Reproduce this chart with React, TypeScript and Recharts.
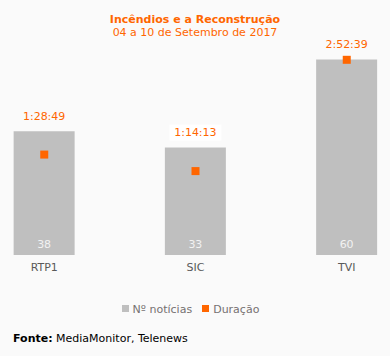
import React from "react";
import {
  Bar,
  ComposedChart,
  LabelList,
  Legend,
  Scatter,
  XAxis,
  YAxis,
} from "recharts";

const channels = ["RTP1", "SIC", "TVI"];
const newsCount = [38, 33, 60];
const durationLabels = ["1:28:49", "1:14:13", "2:52:39"];
// duração em segundos
const durationSeconds = [5329, 4453, 10359];
const legendOrder = ["count", "duration"];

const chartData = channels.map((name, i) => ({
  idx: i,
  name,
  count: newsCount[i],
  duration: durationSeconds[i],
  durationLabel: durationLabels[i],
}));

const FONT = "'DejaVu Sans', Verdana, sans-serif";
const ORANGE = "#ff6600";
const GREY = "#bfbfbf";

function DurationLabel(props: any) {
  const { x, y, width, index } = props;
  const text = durationLabels[index];
  const cx = x + width / 2;
  const cy = y - 15;
  return (
    <g>
      {index === 1 && (
        <rect x={cx - 26} y={cy - 8} width={52} height={16} fill="#ffffff" />
      )}
      <text
        x={cx}
        y={cy}
        textAnchor="middle"
        dominantBaseline="central"
        fill={ORANGE}
        fontSize={11}
        fontFamily={FONT}
      >
        {text}
      </text>
    </g>
  );
}

function SquareDot(props: any) {
  const { cx, cy } = props;
  return <rect x={cx - 4} y={cy - 4} width={8} height={8} fill={ORANGE} />;
}

export default function App() {
  return (
    <div
      style={{
        position: "absolute",
        left: 0,
        top: 0,
        width: 390,
        height: 356,
        background: "#fafafa",
        fontFamily: FONT,
      }}
    >
      <div
        style={{
          position: "absolute",
          top: 13,
          width: 390,
          textAlign: "center",
          color: ORANGE,
          fontSize: 11,
          lineHeight: "13px",
        }}
      >
        <div style={{ fontWeight: "bold" }}>Incêndios e a Reconstrução</div>
        <div>04 a 10 de Setembro de 2017</div>
      </div>
      <ComposedChart
        width={390}
        height={320}
        data={chartData}
        margin={{ top: 27, right: 13, bottom: 3, left: 14 }}
        style={{ position: "absolute", top: 0, left: 0 }}
      >
        <XAxis
          dataKey="idx"
          type="number"
          domain={[-0.2, 2.2]}
          ticks={[0, 1, 2]}
          tickFormatter={(v: number) => channels[v]}
          axisLine={false}
          tickLine={false}
          height={43}
          tick={{ fill: "#595959", fontSize: 11, fontFamily: FONT }}
        />
        <YAxis yAxisId="left" hide domain={[0, 70]} />
        <YAxis yAxisId="right" hide orientation="right" domain={[0, 12100]} />
        <Legend
          verticalAlign="bottom"
          iconType="square"
          iconSize={7}
          itemSorter={(item: any) => legendOrder.indexOf(item.dataKey)}
          formatter={(value: string) => (
            <span style={{ color: "#767171", fontSize: 11, fontFamily: FONT }}>
              {value}
            </span>
          )}
        />
        <Bar
          yAxisId="left"
          dataKey="count"
          name="Nº notícias"
          fill={GREY}
          barSize={61}
          isAnimationActive={false}
        >
          <LabelList
            dataKey="count"
            position="insideBottom"
            offset={7}
            fill="#f2f2f2"
            fontSize={11}
            fontFamily={FONT}
          />
          <LabelList dataKey="durationLabel" content={DurationLabel} />
        </Bar>
        <Scatter
          yAxisId="right"
          dataKey="duration"
          name="Duração"
          fill={ORANGE}
          shape={SquareDot}
          isAnimationActive={false}
        />
      </ComposedChart>
      <div
        style={{
          position: "absolute",
          left: 13,
          top: 332,
          fontSize: 11,
          color: "#000",
        }}
      >
        <b>Fonte:</b> MediaMonitor, Telenews
      </div>
    </div>
  );
}
